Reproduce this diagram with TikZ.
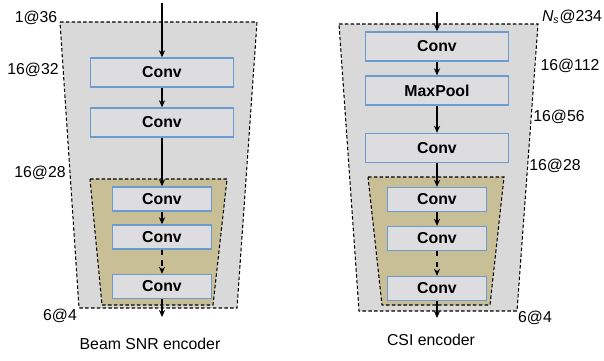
\documentclass[tikz,border=0pt]{standalone}
\usepackage{fontspec}
\setmainfont{Liberation Sans}
\usetikzlibrary{arrows.meta}
\definecolor{boxgray}{RGB}{221,221,223}
\definecolor{boxblue}{RGB}{108,155,210}
\definecolor{outergray}{RGB}{217,217,217}
\definecolor{innertan}{RGB}{201,191,151}
\tikzset{
  layer/.style={draw=boxblue, fill=boxgray, line width=0.8pt, inner sep=0pt,
    font=\bfseries\fontsize{9}{10}\selectfont},
  outerlayer/.style={layer, minimum width=2.86cm, minimum height=0.58cm},
  innerlayer/.style={layer, minimum width=1.98cm, minimum height=0.48cm},
  flow/.style={-{Stealth[length=4pt,width=3.5pt]}, line width=0.7pt},
  trap/.style={dash pattern=on 2pt off 1.3pt, line width=0.6pt},
  dim/.style={font=\fontsize{9}{10}\selectfont, inner sep=0pt}
}
\begin{document}
\begin{tikzpicture}[x=0.02cm,y=-0.02cm]
\useasboundingbox (0,0) rectangle (604,360);

\draw[trap, fill=outergray] (60,22) -- (257,22) -- (237,308) -- (79,308) -- cycle;
\draw[trap, fill=innertan] (90,179) -- (227,179) -- (213,305) -- (102,305) -- cycle;
\draw[trap, fill=outergray] (339,24) -- (538,24) -- (517,311) -- (359,311) -- cycle;
\draw[trap, fill=innertan] (368,177) -- (504,177) -- (490,305) -- (382,305) -- cycle;

\node[outerlayer] (snr1) at (162,72.5) {Conv};
\node[outerlayer] (snr2) at (162,122.5) {Conv};
\node[innerlayer] (snr3) at (162,199) {Conv};
\node[innerlayer] (snr4) at (162,237) {Conv};
\node[innerlayer] (snr5) at (162,286.5) {Conv};
\coordinate (snrin) at (162,3);
\coordinate (snrout) at (162,317);

\node[outerlayer] (csi1) at (437,46.5) {Conv};
\node[outerlayer] (csi2) at (437,90.5) {MaxPool};
\node[outerlayer] (csi3) at (437,148) {Conv};
\node[innerlayer] (csi4) at (437,199.5) {Conv};
\node[innerlayer] (csi5) at (437,238.5) {Conv};
\node[innerlayer] (csi6) at (437,288.5) {Conv};
\coordinate (csiin) at (437,12);
\coordinate (csiout) at (437,318);

\draw[flow] (snrin) -- (snr1);
\draw[flow] (snr1) -- (snr2);
\draw[flow] (snr2) -- (snr3);
\draw[flow] (snr3) -- (snr4);
\draw[flow, dashed] (snr4) -- (snr5);
\draw[flow] (snr5) -- (snrout);

\draw[flow] (csiin) -- (csi1);
\draw[flow] (csi1) -- (csi2);
\draw[flow] (csi2) -- (csi3);
\draw[flow] (csi3) -- (csi4);
\draw[flow] (csi4) -- (csi5);
\draw[flow, dashed] (csi5) -- (csi6);
\draw[flow] (csi6) -- (csiout);

\node[dim] (snrd1) at (36,18) {1@36};
\node[dim] (snrd2) at (33,70) {16@32};
\node[dim] (snrd3) at (40,173) {16@28};
\node[dim] (snrd4) at (60,316) {6@4};
\node[dim] (snrname) at (150,344) {Beam SNR encoder};

\node[dim] (csid1) at (572,17) {\itshape N\textsubscript{s}\upshape @234};
\node[dim] (csid2) at (570,66) {16@112};
\node[dim] (csid3) at (559,117) {16@56};
\node[dim] (csid4) at (555,166) {16@28};
\node[dim] (csid5) at (535,318) {6@4};
\node[dim] (csiname) at (431,340) {CSI encoder};
\end{tikzpicture}
\end{document}
